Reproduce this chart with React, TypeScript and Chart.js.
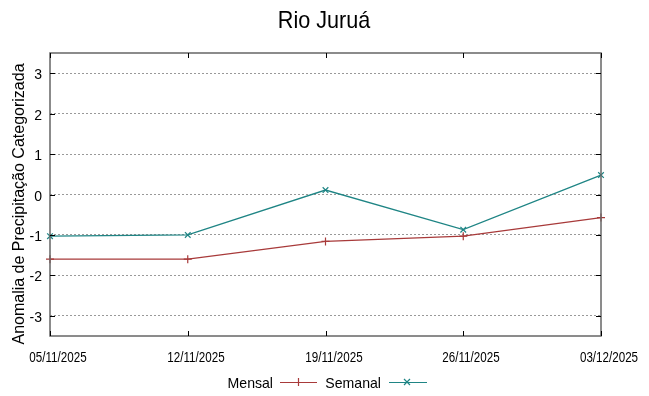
import React, { useEffect, useRef } from "react";
import { Chart, registerables } from "chart.js";

Chart.register(...registerables);

const title = "Rio Juruá";
const yAxisTitle = "Anomalia de Precipitação Categorizada";
const categories = ["05/11/2025", "12/11/2025", "19/11/2025", "26/11/2025", "03/12/2025"];
const mensal = [-1.6, -1.6, -1.16, -1.03, -0.57];
const semanal = [-1.03, -1.0, 0.11, -0.87, 0.48];
const yTicks = [-3, -2, -1, 0, 1, 2, 3];

const RED = "#a83a3a";
const TEAL = "#1f8585";
const FONT = "'Liberation Sans', Arial, sans-serif";

function txt(c: CanvasRenderingContext2D, s: string, x: number, y: number, size: number, sx: number, align: CanvasTextAlign, rot = 0) {
  c.save();
  c.translate(x, y);
  if (rot) c.rotate(rot);
  c.scale(sx, 1);
  c.font = `${size}px ${FONT}`;
  c.textAlign = align;
  c.textBaseline = "alphabetic";
  c.fillStyle = "#000";
  c.fillText(s, 0, 0);
  c.restore();
}

export default function App() {
  const ref = useRef<HTMLCanvasElement>(null);
  useEffect(() => {
    const prev = document.body.style.margin;
    document.body.style.margin = "0";
    const ctx = ref.current!.getContext("2d")!;
    const deco = {
      id: "deco",
      afterDraw(chart: any) {
        const c = chart.ctx as CanvasRenderingContext2D;
        const a = chart.chartArea;
        const ys = chart.scales.y;
        const xs = chart.scales.x;
        c.save();
        // border
        c.strokeStyle = "#666";
        c.lineWidth = 1.5;
        c.strokeRect(Math.round(a.left), Math.round(a.top), Math.round(a.right - a.left), Math.round(a.bottom - a.top));
        // ticks inside
        c.strokeStyle = "#000";
        c.lineWidth = 1;
        yTicks.forEach((v) => {
          const y = Math.round(ys.getPixelForValue(v)) + 0.5;
          c.beginPath();
          c.moveTo(a.left, y);
          c.lineTo(a.left + 5, y);
          c.moveTo(a.right, y);
          c.lineTo(a.right - 5, y);
          c.stroke();
          txt(c, String(v), 42, y + 5, 14, 1, "right");
        });
        categories.forEach((lab, i) => {
          const x = Math.round(xs.getPixelForValue(i)) + 0.5;
          c.beginPath();
          c.moveTo(x, a.bottom);
          c.lineTo(x, a.bottom - 5);
          c.moveTo(x, a.top);
          c.lineTo(x, a.top + 5);
          c.stroke();
          txt(c, lab, x + 7.5, 362, 14, 0.83, "center");
        });
        // title
        txt(c, title, 324, 28, 24, 0.9, "center");
        // y axis title
        txt(c, yAxisTitle, 23.5, 204, 16, 1.0, "center", -Math.PI / 2);
        // legend
        const ly = 382;
        txt(c, "Mensal", 273, 388, 15, 0.94, "right");
        c.strokeStyle = RED;
        c.lineWidth = 1.2;
        c.beginPath();
        c.moveTo(280, ly + 0.5);
        c.lineTo(317, ly + 0.5);
        c.moveTo(298.5, ly - 4);
        c.lineTo(298.5, ly + 4);
        c.stroke();
        txt(c, "Semanal", 381, 388, 15, 0.94, "right");
        c.strokeStyle = TEAL;
        c.beginPath();
        c.moveTo(389, ly + 0.5);
        c.lineTo(427, ly + 0.5);
        c.moveTo(404, ly - 3);
        c.lineTo(410, ly + 3);
        c.moveTo(404, ly + 3);
        c.lineTo(410, ly - 3);
        c.stroke();
        c.restore();
      },
    };
    const chart = new Chart(ctx, {
      type: "line",
      data: {
        labels: categories,
        datasets: [
          {
            label: "Mensal",
            data: mensal,
            borderColor: RED,
            backgroundColor: RED,
            borderWidth: 1.3,
            pointStyle: "cross",
            pointRadius: 4,
            pointBorderWidth: 1.2,
            tension: 0,
          },
          {
            label: "Semanal",
            data: semanal,
            borderColor: TEAL,
            backgroundColor: TEAL,
            borderWidth: 1.3,
            pointStyle: "crossRot",
            pointRadius: 4,
            pointBorderWidth: 1.2,
            tension: 0,
          },
        ],
      },
      options: {
        animation: false,
        responsive: false,
        maintainAspectRatio: false,
        layout: { padding: { top: 53, right: 48, left: 0, bottom: 0 } },
        plugins: { legend: { display: false }, title: { display: false }, tooltip: { enabled: false } },
        scales: {
          x: {
            type: "category",
            offset: false,
            grid: { display: false, drawTicks: false },
            border: { display: false },
            ticks: { display: false, autoSkip: false },
            afterFit: (s: any) => {
              s.height = 60;
            },
          },
          y: {
            min: -3.5,
            max: 3.5,
            afterBuildTicks: (s: any) => {
              s.ticks = yTicks.map((v) => ({ value: v }));
            },
            grid: {
              color: "#999",
              lineWidth: 1,
              drawTicks: false,
            },
            border: { display: false, dash: [2, 2] },
            ticks: { display: false },
            afterFit: (s: any) => {
              s.width = 50;
            },
          },
        },
      },
      plugins: [deco],
    });
    return () => {
      chart.destroy();
      document.body.style.margin = prev;
    };
  }, []);
  return (
    <div style={{ width: 649, height: 396 }}>
      <canvas ref={ref} width={649} height={396} style={{ display: "block" }} />
    </div>
  );
}
